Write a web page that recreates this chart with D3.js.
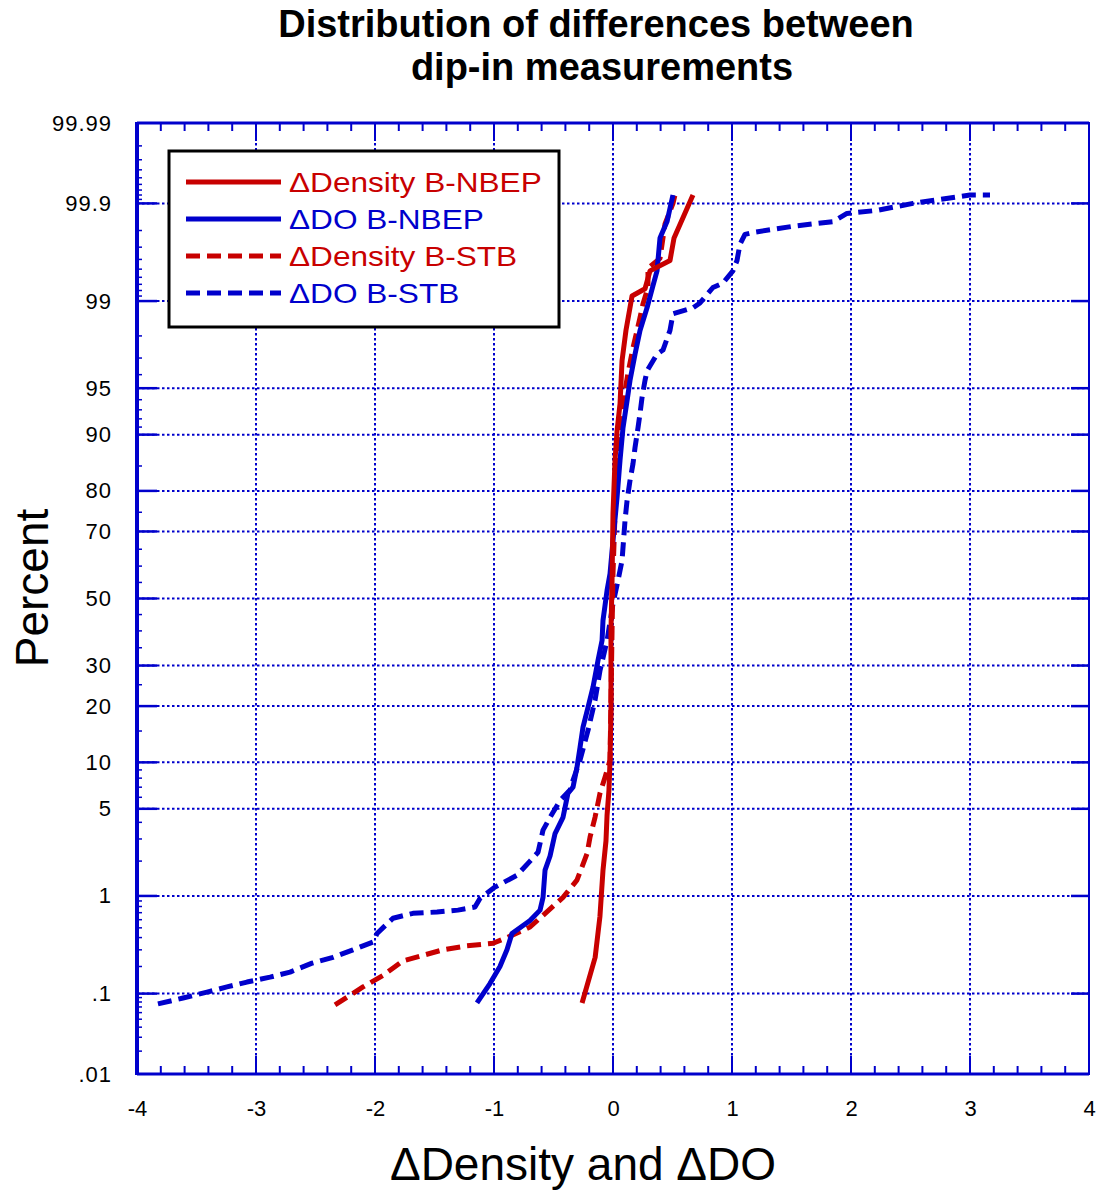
<!DOCTYPE html>
<html>
<head>
<meta charset="utf-8">
<script src="https://cdn.jsdelivr.net/npm/d3@7"></script>
<style>
  html, body { margin: 0; padding: 0; background: #fff; }
  svg { display: block; }
  text { font-family: "Liberation Sans", Arial, Helvetica, sans-serif; }
</style>
</head>
<body>
<svg id="chart" width="1098" height="1190"></svg>
<script>
// ---------------- DATA ----------------
const titleLines = ["Distribution of differences between", "dip-in measurements"];
const xLabel = "\u0394Density and \u0394DO";
const yLabel = "Percent";

const xTickValues = [-4, -3, -2, -1, 0, 1, 2, 3, 4];
const xTickLabels = ["-4", "-3", "-2", "-1", "0", "1", "2", "3", "4"];
const pTickValues = [0.01, 0.1, 1, 5, 10, 20, 30, 50, 70, 80, 90, 95, 99, 99.9, 99.99];
const pTickLabels = [".01", ".1", "1", "5", "10", "20", "30", "50", "70", "80", "90", "95", "99", "99.9", "99.99"];

const seriesNames = ["\u0394Density B-NBEP", "\u0394DO B-NBEP", "\u0394Density B-STB", "\u0394DO B-STB"];

// ΔDensity B-NBEP (value, cumulative percent)
const densNbepX = [-0.26, -0.15, -0.11, -0.084, -0.059, -0.05, -0.034, -0.025, -0.017, -0.017, -0.008, 0.0, 0.017, 0.034, 0.059, 0.076, 0.109, 0.16, 0.269, 0.311, 0.479, 0.513, 0.672];
const densNbepP = [0.078, 0.25, 0.64, 1.68, 2.9, 4.5, 6.7, 10.3, 19, 40, 55.6, 74.7, 86, 90.5, 93.6, 96.85, 98.2, 99.1, 99.23, 99.48, 99.59, 99.76, 99.92];

// ΔDO B-NBEP
const doNbepX = [-1.143, -1.034, -0.95, -0.891, -0.849, -0.697, -0.613, -0.588, -0.571, -0.529, -0.487, -0.42, -0.378, -0.336, -0.303, -0.277, -0.252, -0.21, -0.168, -0.126, -0.092, -0.084, -0.05, -0.025, 0.0, 0.034, 0.059, 0.084, 0.118, 0.143, 0.185, 0.227, 0.286, 0.336, 0.37, 0.395, 0.454, 0.504];
const doNbepP = [0.078, 0.13, 0.2, 0.3, 0.44, 0.59, 0.74, 0.97, 1.68, 2.2, 3.3, 4.35, 6.4, 7.0, 9.3, 12.2, 15.7, 19.7, 24.4, 31.4, 37.1, 43.2, 52.5, 57.7, 67.5, 78.5, 86, 90.9, 93.9, 95.6, 97.2, 98.2, 98.85, 99.28, 99.48, 99.76, 99.84, 99.92];

// ΔDensity B-STB
const densStbX = [-2.336, -2.101, -1.933, -1.765, -1.429, -1.227, -1.008, -0.891, -0.697, -0.588, -0.42, -0.303, -0.218, -0.193, -0.151, -0.109, -0.067, -0.025, -0.017, -0.008, 0.0, 0.017, 0.042, 0.059, 0.084, 0.101, 0.126, 0.168, 0.202, 0.227, 0.252, 0.294, 0.294, 0.395, 0.437, 0.504, 0.521];
const densStbP = [0.074, 0.119, 0.16, 0.23, 0.30, 0.33, 0.35, 0.40, 0.51, 0.66, 0.97, 1.38, 2.3, 3.1, 4.35, 6.4, 8.1, 10.3, 21.3, 40, 57.7, 74.7, 86, 89.1, 92.6, 94.8, 96.1, 97.5, 98.2, 98.6, 98.94, 99.25, 99.51, 99.61, 99.83, 99.90, 99.92];

// ΔDO B-STB
const doStbX = [-3.824, -3.613, -3.412, -3.244, -3.076, -2.882, -2.714, -2.529, -2.353, -2.185, -2.017, -1.983, -1.849, -1.681, -1.479, -1.303, -1.16, -1.118, -0.992, -0.807, -0.697, -0.63, -0.588, -0.529, -0.445, -0.361, -0.336, -0.277, -0.21, -0.151, -0.109, -0.05, 0.0, 0.042, 0.076, 0.101, 0.118, 0.143, 0.168, 0.185, 0.21, 0.227, 0.244, 0.269, 0.286, 0.37, 0.42, 0.479, 0.504, 0.672, 0.731, 0.84, 0.924, 1.008, 1.042, 1.067, 1.109, 1.176, 1.513, 1.849, 1.966, 2.218, 2.521, 2.748, 3.0, 3.168];
const doStbP = [0.076, 0.089, 0.104, 0.119, 0.135, 0.153, 0.174, 0.217, 0.25, 0.30, 0.36, 0.44, 0.62, 0.69, 0.71, 0.74, 0.79, 0.95, 1.2, 1.52, 2.0, 2.36, 3.5, 4.35, 5.7, 6.7, 7.75, 10.3, 15.1, 21.3, 28.7, 37.1, 48.4, 55.6, 61.7, 72.9, 77.8, 82.2, 85.4, 88.1, 90.9, 92.6, 94.2, 95.6, 96.25, 97.2, 97.4, 98.2, 98.7, 98.85, 98.96, 99.25, 99.32, 99.48, 99.59, 99.72, 99.78, 99.79, 99.82, 99.84, 99.87, 99.88, 99.90, 99.91, 99.92, 99.92];

// ---------------- HELPERS ----------------
// inverse standard normal CDF (Acklam)
function probit(p) {
  const a = [-3.969683028665376e+01, 2.209460984245205e+02, -2.759285104469687e+02, 1.383577518672690e+02, -3.066479806614716e+01, 2.506628277459239e+00];
  const b = [-5.447609879822406e+01, 1.615858368580409e+02, -1.556989798598866e+02, 6.680131188771972e+01, -1.328068155288572e+01];
  const c = [-7.784894002430293e-03, -3.223964580411365e-01, -2.400758277161838e+00, -2.549732539343734e+00, 4.374664141464968e+00, 2.938163982698783e+00];
  const d = [7.784695709041462e-03, 3.224671290700398e-01, 2.445134137142996e+00, 3.754408661907416e+00];
  const pl = 0.02425, ph = 1 - pl;
  let q, r;
  if (p < pl) {
    q = Math.sqrt(-2 * Math.log(p));
    return (((((c[0]*q+c[1])*q+c[2])*q+c[3])*q+c[4])*q+c[5]) / ((((d[0]*q+d[1])*q+d[2])*q+d[3])*q+1);
  } else if (p <= ph) {
    q = p - 0.5; r = q * q;
    return (((((a[0]*r+a[1])*r+a[2])*r+a[3])*r+a[4])*r+a[5])*q / (((((b[0]*r+b[1])*r+b[2])*r+b[3])*r+b[4])*r+1);
  } else {
    q = Math.sqrt(-2 * Math.log(1 - p));
    return -(((((c[0]*q+c[1])*q+c[2])*q+c[3])*q+c[4])*q+c[5]) / ((((d[0]*q+d[1])*q+d[2])*q+d[3])*q+1);
  }
}
const zOf = pct => probit(pct / 100);

// ---------------- LAYOUT ----------------
const L = 137, R = 1089, T = 123, B = 1074;
const BLUE = "#0000cc", RED = "#c80000";

const svg = d3.select("#chart");
const x = d3.scaleLinear().domain([-4, 4]).range([L, R]);
const yz = d3.scaleLinear().domain([zOf(0.01), zOf(99.99)]).range([B, T]);
const y = pct => yz(zOf(pct));

// grid
const grid = svg.append("g");
grid.selectAll("line.vg").data(xTickValues.slice(1, -1)).join("line")
  .attr("x1", d => x(d)).attr("x2", d => x(d)).attr("y1", T).attr("y2", B)
  .attr("stroke", BLUE).attr("stroke-width", 2).attr("stroke-dasharray", "2.5,2.5");
grid.selectAll("line.hg").data(pTickValues.slice(1, -1)).join("line")
  .attr("x1", L).attr("x2", R).attr("y1", d => y(d)).attr("y2", d => y(d))
  .attr("stroke", BLUE).attr("stroke-width", 2).attr("stroke-dasharray", "2.5,2.5");

// x axes (bottom & top) with minor ticks
const xMinor = d3.range(-4, 4.0001, 0.2).map(v => +v.toFixed(2));
const xAxisB = d3.axisBottom(x).tickValues(xTickValues).tickSize(0).tickPadding(26)
  .tickFormat((d, i) => xTickLabels[i]);
const gxb = svg.append("g").attr("transform", `translate(0,${B})`).call(xAxisB);
gxb.select(".domain").remove();
gxb.selectAll("text").attr("font-size", 22).attr("fill", "#000").attr("font-family", null);

function xTickMarks(yBase, dir) {
  const g = svg.append("g");
  g.selectAll("line").data(xMinor).join("line")
    .attr("x1", d => x(d)).attr("x2", d => x(d))
    .attr("y1", yBase)
    .attr("y2", d => yBase + dir * (Math.abs(d - Math.round(d)) < 1e-6 ? 18 : 8))
    .attr("stroke", BLUE).attr("stroke-width", 2);
}
xTickMarks(B, -1);
xTickMarks(T, 1);

// y axis (probability)
const yAxis = d3.axisLeft(yz).tickValues(pTickValues.map(zOf)).tickSize(0).tickPadding(25)
  .tickFormat((d, i) => pTickLabels[i]);
const gy = svg.append("g").attr("transform", `translate(${L},0)`).call(yAxis);
gy.select(".domain").remove();
gy.selectAll("text").attr("font-size", 22).attr("letter-spacing", 1).attr("fill", "#000").attr("font-family", null);

// y major tick marks (left & right)
const yt = svg.append("g");
yt.selectAll("line.l").data(pTickValues.slice(1, -1)).join("line")
  .attr("x1", L).attr("x2", L + 20).attr("y1", d => y(d)).attr("y2", d => y(d))
  .attr("stroke", BLUE).attr("stroke-width", 2.5);
yt.selectAll("line.r").data(pTickValues.slice(1, -1)).join("line")
  .attr("x1", R - 18).attr("x2", R).attr("y1", d => y(d)).attr("y2", d => y(d))
  .attr("stroke", BLUE).attr("stroke-width", 2.5);
// left minor ticks (dense probability subdivisions)
const pMinor = [0.02,0.03,0.04,0.05,0.06,0.07,0.08,0.09,0.2,0.3,0.4,0.5,0.6,0.7,0.8,0.9,2,3,4,6,7,8,9,15,25,35,40,45,55,60,65,75,85,91,92,93,94,96,97,98,99.1,99.2,99.3,99.4,99.5,99.6,99.7,99.8,99.91,99.92,99.93,99.94,99.95,99.96,99.97,99.98];
yt.selectAll("line.m").data(pMinor).join("line")
  .attr("x1", L).attr("x2", L + 5).attr("y1", d => y(d)).attr("y2", d => y(d))
  .attr("stroke", BLUE).attr("stroke-width", 1.5);

// frame
svg.append("line").attr("x1", L).attr("x2", L).attr("y1", T - 1).attr("y2", B + 1).attr("stroke", BLUE).attr("stroke-width", 4);
svg.append("line").attr("x1", R).attr("x2", R).attr("y1", T - 1).attr("y2", B + 1).attr("stroke", BLUE).attr("stroke-width", 2);
svg.append("line").attr("x1", L).attr("x2", R).attr("y1", T).attr("y2", T).attr("stroke", BLUE).attr("stroke-width", 3);
svg.append("line").attr("x1", L).attr("x2", R).attr("y1", B).attr("y2", B).attr("stroke", BLUE).attr("stroke-width", 3);

// series
const series = [
  { name: seriesNames[3], xs: doStbX, ps: doStbP, color: BLUE, dash: "14,7" },
  { name: seriesNames[2], xs: densStbX, ps: densStbP, color: RED, dash: "14,7" },
  { name: seriesNames[1], xs: doNbepX, ps: doNbepP, color: BLUE, dash: null },
  { name: seriesNames[0], xs: densNbepX, ps: densNbepP, color: RED, dash: null }
];
const line = d3.line().x(d => x(d[0])).y(d => y(d[1]));
svg.append("g").selectAll("path").data(series).join("path")
  .attr("d", s => line(s.xs.map((v, i) => [v, s.ps[i]])))
  .attr("fill", "none").attr("stroke", s => s.color).attr("stroke-width", 5)
  .attr("stroke-linejoin", "round")
  .attr("stroke-dasharray", s => s.dash);

// legend
const legend = svg.append("g");
legend.append("rect").attr("x", 169).attr("y", 151).attr("width", 390).attr("height", 176)
  .attr("fill", "#fff").attr("stroke", "#000").attr("stroke-width", 3);
const legItems = [
  { name: seriesNames[0], color: RED, dash: null },
  { name: seriesNames[1], color: BLUE, dash: null },
  { name: seriesNames[2], color: RED, dash: "14,7" },
  { name: seriesNames[3], color: BLUE, dash: "14,7" }
];
const legRowY = [182, 219, 256, 293];
const lg = legend.selectAll("g.item").data(legItems).join("g")
  .attr("transform", (d, i) => `translate(0,${legRowY[i]})`);
lg.append("line").attr("x1", 186).attr("x2", 281).attr("y1", 0).attr("y2", 0)
  .attr("stroke", d => d.color).attr("stroke-width", 5).attr("stroke-dasharray", d => d.dash);
lg.append("text").attr("transform", "translate(289,10) scale(1.17,1)")
  .attr("font-size", 27).attr("fill", d => d.color).text(d => d.name);

// titles
svg.append("g").selectAll("text").data(titleLines).join("text")
  .attr("x", (d, i) => i === 0 ? 596 : 602).attr("y", (d, i) => i === 0 ? 37 : 80)
  .attr("text-anchor", "middle").attr("font-weight", "bold").attr("font-size", 38)
  .text(d => d);

svg.append("text").attr("x", 583).attr("y", 1180).attr("text-anchor", "middle")
  .attr("font-size", 46).text(xLabel);

svg.append("text").attr("transform", "translate(48,588) rotate(-90)").attr("text-anchor", "middle")
  .attr("font-size", 46).text(yLabel);
</script>
</body>
</html>
